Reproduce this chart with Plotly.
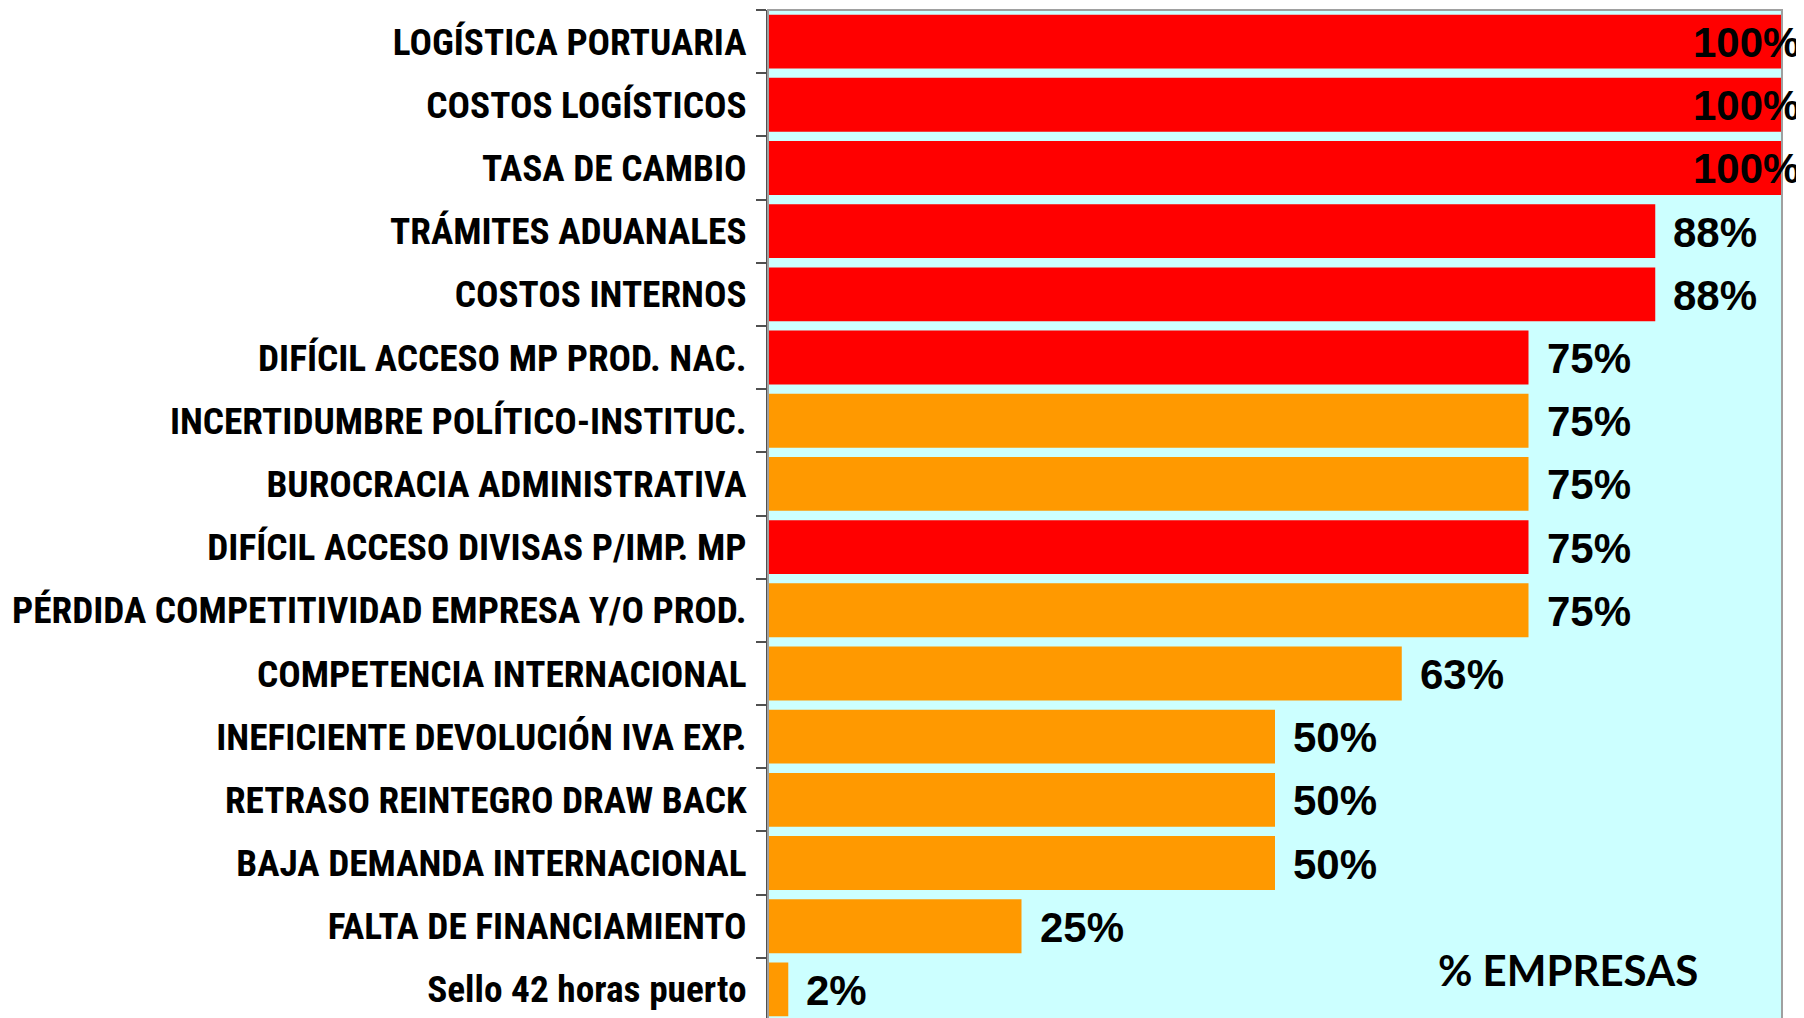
import plotly.graph_objects as go

categories = [
    "LOGÍSTICA PORTUARIA",
    "COSTOS LOGÍSTICOS",
    "TASA DE CAMBIO",
    "TRÁMITES ADUANALES",
    "COSTOS INTERNOS",
    "DIFÍCIL ACCESO MP PROD. NAC.",
    "INCERTIDUMBRE POLÍTICO-INSTITUC.",
    "BUROCRACIA ADMINISTRATIVA",
    "DIFÍCIL ACCESO DIVISAS P/IMP. MP",
    "PÉRDIDA COMPETITIVIDAD EMPRESA Y/O PROD.",
    "COMPETENCIA INTERNACIONAL",
    "INEFICIENTE DEVOLUCIÓN IVA EXP.",
    "RETRASO REINTEGRO DRAW BACK",
    "BAJA DEMANDA INTERNACIONAL",
    "FALTA DE FINANCIAMIENTO",
    "Sello 42 horas puerto",
]
values = [100, 100, 100, 87.5, 87.5, 75, 75, 75, 75, 75, 62.5, 50, 50, 50, 25, 2]
value_labels = ["100%", "100%", "100%", "88%", "88%", "75%", "75%", "75%", "75%",
                "75%", "63%", "50%", "50%", "50%", "25%", "2%"]
bar_group = ["red", "red", "red", "red", "red", "red", "orange", "orange", "red",
             "orange", "orange", "orange", "orange", "orange", "orange", "orange"]
axis_title = "% EMPRESAS"

group_colors = {"red": "#FF0000", "orange": "#FF9900"}

fig = go.Figure()
fig.add_trace(go.Bar(
    y=categories,
    x=values,
    orientation="h",
    marker=dict(color=[group_colors[g] for g in bar_group], line=dict(width=0)),
    hoverinfo="skip",
))

label_font = dict(family="Liberation Sans, Arial", size=42, color="black", weight="bold")
for cat, val, lab in zip(categories, values, value_labels):
    if val >= 100:
        fig.add_annotation(x=val, y=cat, text=lab, showarrow=False, xanchor="right",
                           xshift=20, yshift=-1, font=label_font)
    else:
        fig.add_annotation(x=val, y=cat, text=lab, showarrow=False, xanchor="left",
                           xshift=16, yshift=-1, font=label_font)

fig.add_annotation(xref="paper", yref="paper", x=0.789, y=0.05, text=axis_title,
                   showarrow=False, xanchor="center", yanchor="middle",
                   font=dict(family="Lato, Open Sans", size=42, color="black", weight="bold"))

fig.add_shape(type="rect", xref="paper", yref="paper", x0=0, x1=1, y0=0, y1=1,
              line=dict(color="#A0A0A0", width=2), fillcolor="rgba(0,0,0,0)", layer="above")

fig.update_layout(
    width=1796,
    height=1013,
    margin=dict(l=760, r=22, t=2, b=0, autoexpand=False),
    paper_bgcolor="white",
    plot_bgcolor="#CCFFFF",
    bargap=0.147,
    showlegend=False,
    xaxis=dict(range=[0, 100], showticklabels=False, showgrid=False, zeroline=False,
               showline=False, ticks=""),
    yaxis=dict(
        autorange="reversed",
        type="category",
        automargin=False,
        showgrid=False,
        showline=True,
        linecolor="#505050",
        linewidth=2,
        ticks="outside",
        tickson="boundaries",
        ticklen=10,
        tickwidth=1.5,
        tickcolor="#505050",
        ticklabelstandoff=12,
        tickfont=dict(family="Roboto Condensed, Liberation Sans", size=37.3,
                      color="black", weight="bold"),
        layer="above traces",
    ),
)

fig.write_html("out.html")
